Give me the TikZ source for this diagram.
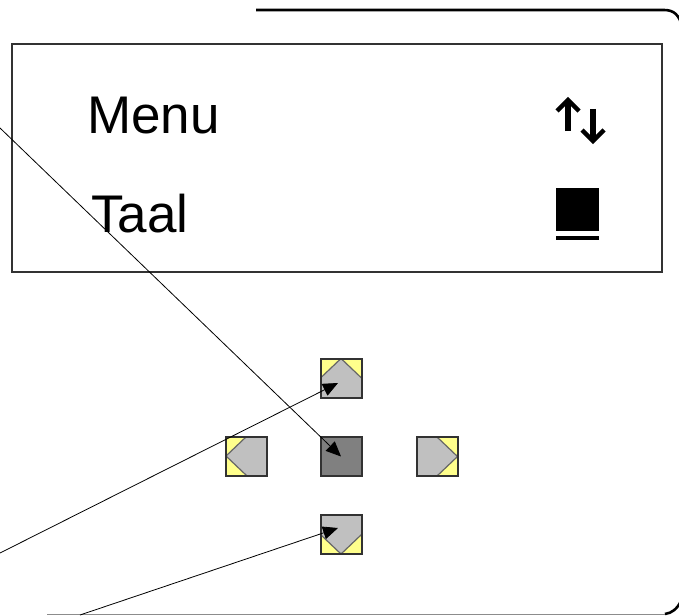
\documentclass[tikz,border=0pt]{standalone}
\usepackage{fontspec}
\setmainfont{Liberation Sans}
\usetikzlibrary{arrows.meta}
\definecolor{btngray}{RGB}{192,192,192}
\definecolor{btndark}{RGB}{128,128,128}
\definecolor{btnyellow}{RGB}{255,255,140}
\definecolor{edge}{RGB}{50,50,50}
\tikzset{
  btn/.style={draw=edge, line width=2pt, fill=btngray, minimum width=41pt, minimum height=39pt, inner sep=0pt},
  pp/.style={path picture={#1}},
  diag/.style={draw=black!60, line width=1.2pt},
  conn/.style={draw=black, line width=0.8pt, -{Triangle[length=15pt,width=13pt]}},
  lcdtext/.style={font=\fontsize{53}{62}\selectfont, anchor=base west, inner sep=0pt},
  frame/.style={line width=2.6pt, black}
}
\begin{document}
\begin{tikzpicture}[x=1pt,y=-1pt]
\clip (0,0) rectangle (679,615);
\fill[white] (0,0) rectangle (679,615);
% outer frame
\draw[frame] (256,10) -- (664,10) .. controls (674,10) and (679,15) .. (682,26);
\draw[black!45, line width=1pt] (47,614) -- (667,614);
\draw[frame] (665,614) .. controls (672,613) and (677,609) .. (681,601);
% LCD
\node[draw=edge, line width=2pt, minimum width=650pt, minimum height=228pt, inner sep=0pt] (lcd) at (337,158) {};
\node[lcdtext] (menu) at (87,133) {Menu};
\node[lcdtext] (taal) at (91,232) {Taal};
% up/down glyph
\draw[line width=5.5pt] (568,131) -- (568,102);
\draw[line width=4.5pt, miter limit=10] (557,111) -- (568,100) -- (579,111);
\draw[line width=5.5pt] (593,109) -- (593,139);
\draw[line width=4.5pt, miter limit=10] (582,130) -- (593,141) -- (604,130);
% cursor block
\fill (556,188) rectangle (599,231);
\fill (556,236) rectangle (599,240);
% buttons
\node[btn, pp={
  \fill[btnyellow] (path picture bounding box.north west) -- (path picture bounding box.north) -- (path picture bounding box.west) -- cycle;
  \fill[btnyellow] (path picture bounding box.north east) -- (path picture bounding box.north) -- (path picture bounding box.east) -- cycle;
  \draw[diag] (path picture bounding box.west) -- (path picture bounding box.north) -- (path picture bounding box.east);
}] (up) at (341,378) {};
\node[btn, fill=btndark] (cen) at (341,456.5) {};
\node[btn, pp={
  \fill[btnyellow] (path picture bounding box.north east) -- (path picture bounding box.north) -- (path picture bounding box.east) -- cycle;
  \fill[btnyellow] (path picture bounding box.south east) -- (path picture bounding box.south) -- (path picture bounding box.east) -- cycle;
  \draw[diag] (path picture bounding box.north) -- (path picture bounding box.east) -- (path picture bounding box.south);
}] (right) at (437,456.5) {};
\node[btn, pp={
  \fill[btnyellow] (path picture bounding box.north west) -- (path picture bounding box.north) -- (path picture bounding box.west) -- cycle;
  \fill[btnyellow] (path picture bounding box.south west) -- (path picture bounding box.south) -- (path picture bounding box.west) -- cycle;
  \draw[diag] (path picture bounding box.north) -- (path picture bounding box.west) -- (path picture bounding box.south);
}] (left) at (246.5,456) {};
\node[btn, pp={
  \fill[btnyellow] (path picture bounding box.south west) -- (path picture bounding box.south) -- (path picture bounding box.west) -- cycle;
  \fill[btnyellow] (path picture bounding box.south east) -- (path picture bounding box.south) -- (path picture bounding box.east) -- cycle;
  \draw[diag] (path picture bounding box.west) -- (path picture bounding box.south) -- (path picture bounding box.east);
}] (down) at (341,534.5) {};
% connectors
\coordinate (s1) at (0,128);
\coordinate (s2) at (0,553);
\coordinate (s3) at (80,615);
\draw[conn] (s1) -- (cen.center);
\draw[conn] (s2) -- ([xshift=-3pt,yshift=-5pt]up.center);
\draw[conn] (s3) -- ([xshift=-3pt,yshift=6.5pt]down.center);
\end{tikzpicture}
\end{document}
